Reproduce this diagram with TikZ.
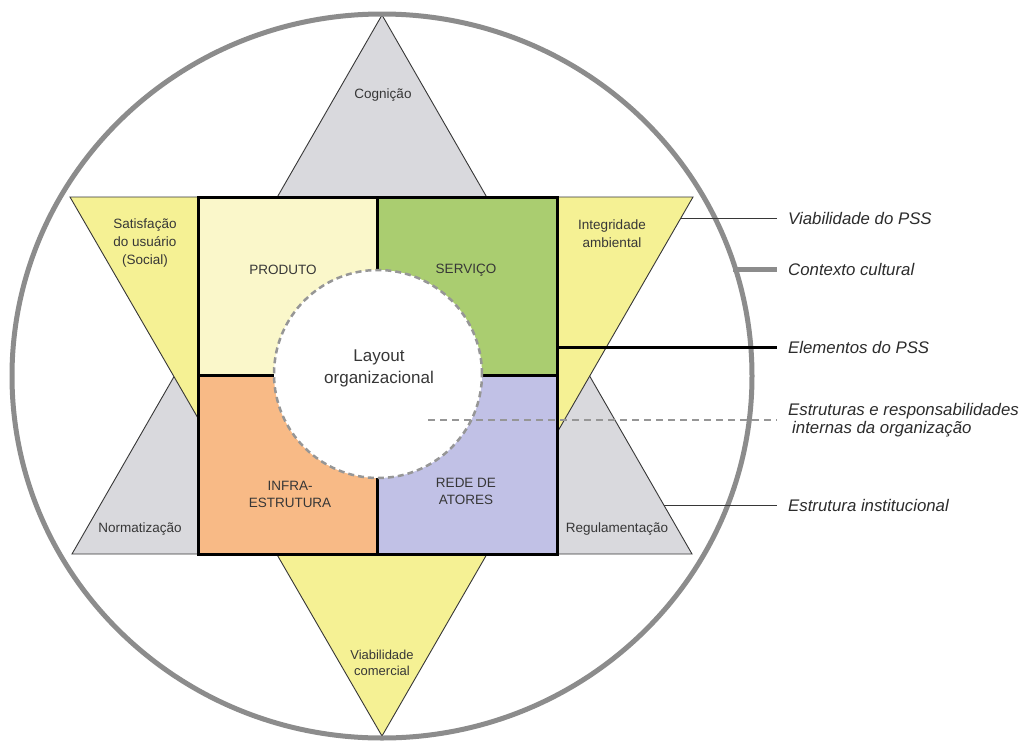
\documentclass[tikz,border=0pt]{standalone}
\usepackage{fontspec}
\setmainfont{Liberation Sans}
\usetikzlibrary{positioning}
\definecolor{TriGray}{RGB}{217,217,221}
\definecolor{TriYellow}{RGB}{245,241,148}
\definecolor{ProdColor}{RGB}{250,247,202}
\definecolor{ServColor}{RGB}{170,205,112}
\definecolor{InfraColor}{RGB}{248,186,134}
\definecolor{RedeColor}{RGB}{193,193,230}
\definecolor{RingColor}{RGB}{140,140,140}
\definecolor{DashColor}{RGB}{150,150,150}
\definecolor{InkColor}{RGB}{55,55,55}
\tikzset{
  triangle/.style={draw=InkColor, line width=0.9pt},
  quadrant/.style={draw=black, line width=3pt},
  trilabel/.style={font=\fontsize{13.5}{18}\selectfont, text=InkColor, align=center, inner sep=0pt},
  quadlabel/.style={font=\fontsize{13.5}{17}\selectfont, text=InkColor, align=center, inner sep=0pt},
  sidelabel/.style={font=\fontsize{16.8}{18}\selectfont\itshape, text=InkColor!80!black, align=left, anchor=west, inner sep=0pt},
  thin lead/.style={draw=InkColor, line width=1pt},
  ring lead/.style={draw=RingColor, line width=5pt},
  element lead/.style={draw=black, line width=3pt},
  dash lead/.style={draw=DashColor, line width=2pt, dash pattern=on 7pt off 5pt}
}
\begin{document}
\begin{tikzpicture}[x=1pt, y=-1pt]
  \useasboundingbox (0,0) rectangle (1034,742);
  \fill[white] (0,0) rectangle (1034,742);

  % Star: grey triangle behind, yellow one on top
  \filldraw[triangle, fill=TriGray] (382,15) -- (692,554) -- (72,554) -- cycle;
  \filldraw[triangle, fill=TriYellow] (70,197) -- (693,197) -- (382,736) -- cycle;

  % Quadrants
  \fill[ProdColor] (198,197) rectangle (377,375);
  \fill[ServColor] (377,197) rectangle (557,375);
  \fill[InfraColor] (198,375) rectangle (377,554);
  \fill[RedeColor] (377,375) rectangle (557,554);
  \draw[quadrant] (198,197) rectangle (557,554);
  \draw[quadrant] (377,197) -- (377,554);
  \draw[quadrant] (198,375) -- (557,375);

  % Layout circle
  \filldraw[fill=white, draw=DashColor, line width=2.5pt, dash pattern=on 6pt off 4pt] (378,374) circle (104pt);

  % Outer ring
  \draw[RingColor, line width=5pt] (382,376) ellipse [x radius=370pt, y radius=362pt];

  % Texts inside
  \node[trilabel] (cognicao) at (383,95) {Cogni\c{c}\~ao};
  \node[trilabel] (satisfacao) at (145,243) {Satisfa\c{c}\~ao\\do usu\'ario\\(Social)};
  \node[trilabel] (integridade) at (612,234) {Integridade\\ambiental};
  \node[trilabel] (normatizacao) at (140,529) {Normatiza\c{c}\~ao};
  \node[trilabel] (regulamentacao) at (617,529) {Regulamenta\c{c}\~ao};
  \node[trilabel, font=\fontsize{13}{16}\selectfont] (comercial) at (382,663) {Viabilidade\\comercial};
  \node[quadlabel] (produto) at (283,270) {PRODUTO};
  \node[quadlabel] (servico) at (466,270) {SERVI\c{C}O};
  \node[quadlabel] (infra) at (290,494) {INFRA-\\ESTRUTURA};
  \node[quadlabel] (rede) at (466,491) {REDE DE\\ATORES};
  \node[font=\fontsize{17}{22}\selectfont, text=InkColor, align=center, inner sep=0pt] (layout) at (379,368) {Layout\\organizacional};

  % Side labels and their leads
  \coordinate (viabFrom) at (681,218);
  \coordinate (viabTip) at (777,218);
  \coordinate (culturaFrom) at (733,269);
  \coordinate (culturaTip) at (777,269);
  \coordinate (elemFrom) at (557,347);
  \coordinate (elemTip) at (777,347);
  \coordinate (internaFrom) at (428,420);
  \coordinate (internaTip) at (777,420);
  \coordinate (instFrom) at (664,505);
  \coordinate (instTip) at (777,505);

  \node[sidelabel, right=11pt of viabTip] (viab) {Viabilidade do PSS};
  \node[sidelabel, right=11pt of culturaTip] (cultura) {Contexto cultural};
  \node[sidelabel, right=11pt of elemTip] (elem) {Elementos do PSS};
  \node[sidelabel, right=11pt of internaTip] (interna) {Estruturas e responsabilidades\\\hspace{4pt}internas da organiza\c{c}\~ao};
  \node[sidelabel, right=11pt of instTip] (inst) {Estrutura institucional};

  \draw[thin lead] (viabFrom) -- (viabTip);
  \draw[ring lead] (culturaFrom) -- (culturaTip);
  \draw[element lead] (elemFrom) -- (elemTip);
  \draw[dash lead] (internaFrom) -- (internaTip);
  \draw[thin lead] (instFrom) -- (instTip);
\end{tikzpicture}
\end{document}
